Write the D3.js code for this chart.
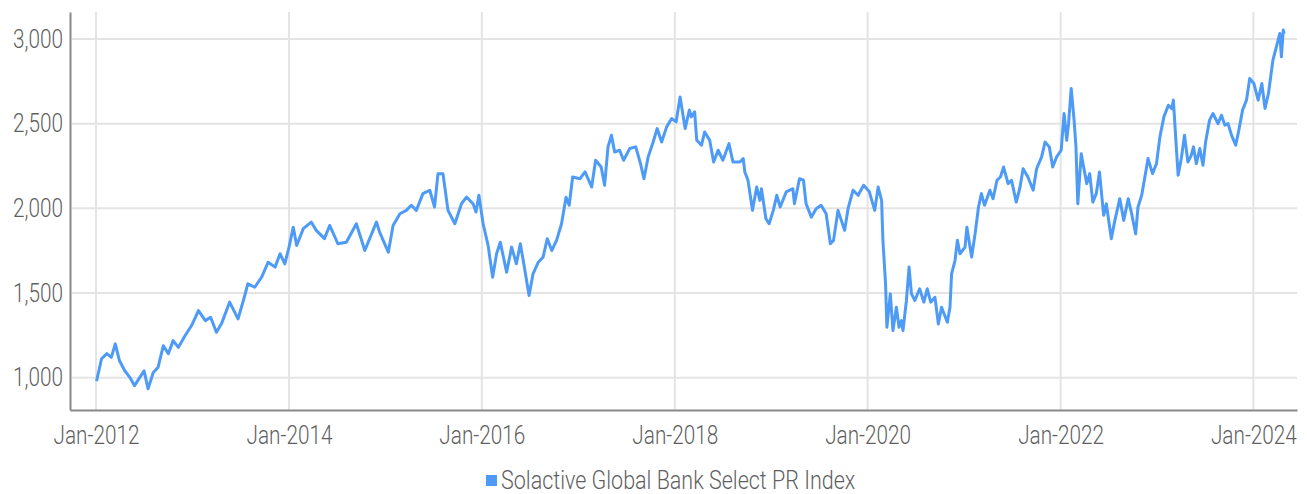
<!DOCTYPE html>
<html>
<head>
<meta charset="utf-8">
<script src="https://cdn.jsdelivr.net/npm/d3@7/dist/d3.min.js"></script>
<style>
	html, body { margin: 0; padding: 0; background: #fff; }
	svg text { font-family: Roboto, "Liberation Sans", sans-serif; font-weight: 300; fill: #5f5f5f; }
</style>
</head>
<body>
<div id="chartDiv"></div>
<script>
;(function() {

	var width = 1307;
	var height = 494;

	var seriesName = "Solactive Global Bank Select PR Index";
	var lineColor = "#4d9bf7";
	var squeeze = 0.83; // the original face is a condensed one
	var legendSqueeze = 0.86;

	// dates and index levels
	var dates = [
		"2012-01-03","2012-01-22","2012-02-11","2012-02-28","2012-03-14","2012-03-30","2012-04-19","2012-05-08","2012-05-26","2012-06-15",
		"2012-07-01","2012-07-16","2012-08-05","2012-08-23","2012-09-12","2012-10-01","2012-10-19","2012-11-08","2012-12-03","2012-12-28",
		"2013-01-23","2013-02-18","2013-03-10","2013-04-01","2013-04-20","2013-05-21","2013-06-22","2013-07-14","2013-07-29","2013-08-24",
		"2013-09-19","2013-10-14","2013-11-09","2013-11-28","2013-12-16","2014-01-01","2014-01-17","2014-01-30","2014-02-24","2014-03-26",
		"2014-04-14","2014-05-15","2014-06-04","2014-07-05","2014-08-06","2014-09-13","2014-10-15","2014-11-28","2014-12-10","2015-01-12",
		"2015-01-30","2015-02-25","2015-03-21","2015-04-09","2015-04-28","2015-05-23","2015-06-18","2015-07-06","2015-07-19","2015-08-07",
		"2015-08-26","2015-09-21","2015-10-16","2015-11-04","2015-11-29","2015-12-10","2015-12-21","2016-01-06","2016-01-25","2016-02-11",
		"2016-02-26","2016-03-11","2016-04-04","2016-04-23","2016-05-11","2016-05-26","2016-06-08","2016-06-28","2016-07-13","2016-08-02",
		"2016-08-20","2016-09-05","2016-09-22","2016-10-10","2016-10-29","2016-11-15","2016-11-27","2016-12-10","2017-01-07","2017-01-26",
		"2017-02-20","2017-03-07","2017-03-28","2017-04-10","2017-04-23","2017-05-06","2017-05-18","2017-06-06","2017-06-21","2017-07-14",
		"2017-08-06","2017-08-24","2017-09-06","2017-09-22","2017-10-11","2017-10-26","2017-11-12","2017-12-01","2017-12-20","2018-01-06",
		"2018-01-21","2018-02-09","2018-02-25","2018-03-04","2018-03-17","2018-03-25","2018-04-12","2018-04-24","2018-05-13","2018-05-28",
		"2018-06-14","2018-07-02","2018-07-25","2018-08-09","2018-09-04","2018-09-17","2018-09-23","2018-10-05","2018-10-22","2018-11-07",
		"2018-11-19","2018-11-25","2018-12-12","2018-12-24","2019-01-09","2019-01-22","2019-02-04","2019-02-27","2019-03-24","2019-03-30",
		"2019-04-18","2019-05-03","2019-05-13","2019-06-02","2019-06-20","2019-07-09","2019-07-28","2019-08-13","2019-08-25","2019-09-11",
		"2019-10-06","2019-10-19","2019-11-07","2019-11-26","2019-12-17","2020-01-07","2020-01-28","2020-02-10","2020-02-23","2020-02-28",
		"2020-03-09","2020-03-14","2020-03-27","2020-04-06","2020-04-19","2020-04-29","2020-05-08","2020-05-14","2020-05-27","2020-06-06",
		"2020-06-15","2020-06-28","2020-07-16","2020-08-01","2020-08-14","2020-08-27","2020-09-12","2020-09-25","2020-10-07","2020-10-29",
		"2020-11-08","2020-11-14","2020-11-27","2020-12-06","2020-12-16","2021-01-04","2021-01-11","2021-01-29","2021-02-11","2021-02-24",
		"2021-03-07","2021-03-19","2021-04-08","2021-04-20","2021-05-05","2021-05-18","2021-05-30","2021-06-16","2021-06-29","2021-07-17",
		"2021-07-30","2021-08-12","2021-08-30","2021-09-19","2021-10-02","2021-10-21","2021-11-03","2021-11-19","2021-12-02","2021-12-17",
		"2022-01-03","2022-01-14","2022-01-24","2022-01-31","2022-02-10","2022-02-21","2022-02-28","2022-03-07","2022-03-20","2022-03-29",
		"2022-04-10","2022-04-21","2022-05-03","2022-05-16","2022-05-28","2022-06-13","2022-06-23","2022-07-12","2022-07-24","2022-08-13",
		"2022-08-28","2022-09-14","2022-09-27","2022-10-12","2022-10-21","2022-11-04","2022-11-16","2022-11-28","2022-12-15","2022-12-30",
		"2023-01-12","2023-01-27","2023-02-13","2023-02-26","2023-03-04","2023-03-15","2023-03-22","2023-04-03","2023-04-15","2023-04-28",
		"2023-05-11","2023-05-19","2023-05-30","2023-06-12","2023-06-24","2023-07-04","2023-07-19","2023-08-01","2023-08-20","2023-09-02",
		"2023-09-15","2023-09-27","2023-10-10","2023-10-26","2023-11-08","2023-11-21","2023-12-06","2023-12-18","2024-01-03","2024-01-19",
		"2024-02-02","2024-02-14","2024-02-27","2024-03-15","2024-03-28","2024-04-10","2024-04-16","2024-04-23","2024-04-26"
	];

	var values = [
		980,1112,1142,1120,1200,1100,1041,1002,953,1002,
		1041,935,1031,1061,1189,1142,1219,1179,1248,1308,
		1396,1337,1357,1268,1318,1446,1347,1466,1554,1534,
		1593,1682,1653,1732,1672,1771,1889,1781,1880,1919,
		1870,1821,1899,1791,1800,1909,1751,1919,1860,1741,
		1899,1968,1988,2018,1988,2087,2107,2008,2204,2204,
		1988,1909,2027,2066,2027,1978,2077,1909,1780,1593,
		1732,1800,1623,1771,1673,1791,1673,1485,1613,1682,
		1712,1821,1751,1811,1909,2066,2018,2185,2175,2215,
		2126,2284,2244,2136,2363,2432,2333,2343,2284,2353,
		2363,2264,2175,2304,2392,2471,2392,2481,2530,2511,
		2658,2471,2580,2540,2570,2402,2373,2451,2402,2274,
		2343,2284,2382,2274,2274,2294,2215,2166,1988,2126,
		2047,2116,1939,1909,1988,2077,2008,2097,2116,2027,
		2175,2166,2027,1948,1998,2018,1968,1791,1811,1988,
		1870,1998,2107,2077,2136,2100,1988,2126,2047,1811,
		1554,1298,1495,1278,1416,1298,1337,1278,1456,1653,
		1495,1456,1525,1446,1525,1446,1475,1317,1416,1327,
		1416,1613,1692,1811,1732,1771,1889,1712,1850,2008,
		2087,2018,2107,2057,2166,2185,2244,2146,2166,2037,
		2116,2234,2185,2107,2234,2304,2392,2363,2244,2304,
		2343,2560,2402,2500,2708,2521,2363,2027,2323,2244,
		2146,2205,2037,2087,2215,1959,2027,1821,1919,2057,
		1929,2057,1968,1850,2008,2077,2185,2294,2205,2264,
		2422,2540,2609,2589,2639,2363,2195,2294,2432,2274,
		2314,2363,2264,2353,2254,2392,2521,2560,2500,2550,
		2491,2500,2432,2373,2471,2580,2640,2767,2737,2639,
		2737,2590,2678,2876,2954,3033,2895,3053,3030
	];

	var yTicks = [1000, 1500, 2000, 2500, 3000];
	var xTickYears = [2012, 2014, 2016, 2018, 2020, 2022, 2024];

	var plot = { left: 70, right: 1297, top: 12, bottom: 410 };

	var parseDate = d3.timeParse("%Y-%m-%d");
	var data = dates.map(function(d, i) { return { date: parseDate(d), value: values[i] }; });

	var svg = d3.select("#chartDiv").append("svg")
		.attr("width", width)
		.attr("height", height);

	// x scale: Jan-2012 sits at 96px, Jan-2024 at 1253px
	var xScale = d3.scaleTime()
		.domain([new Date(2012, 0, 1), new Date(2024, 0, 1)])
		.range([96, 1253.4]);
	xScale.domain([xScale.invert(plot.left), xScale.invert(plot.right)]).range([plot.left, plot.right]);

	var yScale = d3.scaleLinear()
		.domain([1000, 3000])
		.range([377.7, 39]);
	yScale.domain([yScale.invert(plot.bottom), yScale.invert(plot.top)]).range([plot.bottom, plot.top]);

	var xTickDates = xTickYears.map(function(y) { return new Date(y, 0, 1); });

	// grid
	svg.append("g").selectAll("line.hgrid")
		.data(yTicks)
		.enter().append("line")
			.attr("class", "hgrid")
			.attr("x1", plot.left + 2)
			.attr("x2", plot.right)
			.attr("y1", function(d) { return yScale(d); })
			.attr("y2", function(d) { return yScale(d); })
			.style("stroke", "#e4e4e4")
			.style("stroke-width", 2);

	svg.append("g").selectAll("line.vgrid")
		.data(xTickDates)
		.enter().append("line")
			.attr("class", "vgrid")
			.attr("x1", function(d) { return xScale(d); })
			.attr("x2", function(d) { return xScale(d); })
			.attr("y1", plot.top)
			.attr("y2", plot.bottom)
			.style("stroke", "#e4e4e4")
			.style("stroke-width", 2);

	// axes
	var xAxis = d3.axisBottom(xScale)
		.tickValues(xTickDates)
		.tickFormat(d3.timeFormat("%b-%Y"))
		.tickSize(0)
		.tickPadding(16);

	var xAxisContainer = svg.append("g")
		.attr("class", "x axis")
		.attr("transform", "translate(0," + plot.bottom + ")")
		.call(xAxis);
	xAxisContainer.select(".domain").style("stroke", "#888").style("stroke-width", 2);
	xAxisContainer.selectAll("text").style("font-size", "25px");

	var yAxis = d3.axisLeft(yScale)
		.tickValues(yTicks)
		.tickFormat(d3.format(","))
		.tickSize(0)
		.tickPadding(7);

	var yAxisContainer = svg.append("g")
		.attr("class", "y axis")
		.attr("transform", "translate(" + plot.left + ",0)")
		.call(yAxis);
	yAxisContainer.select(".domain").style("stroke", "#888").style("stroke-width", 2);
	yAxisContainer.selectAll("text").style("font-size", "25px");

	svg.selectAll(".tick text").style("fill", "#5f5f5f").style("font-weight", 300);
	svg.selectAll("g").attr("font-family", null).attr("font-size", null);

	// series line
	var line = d3.line()
		.x(function(d) { return xScale(d.date); })
		.y(function(d) { return yScale(d.value); });

	svg.append("path")
		.datum(data)
		.attr("d", line)
		.style("fill", "none")
		.style("stroke", lineColor)
		.style("stroke-width", 3)
		.style("stroke-linejoin", "round");

	// legend
	var legend = svg.append("g").attr("class", "legend").attr("transform", "translate(486,475)");
	legend.append("rect")
		.attr("width", 11)
		.attr("height", 11)
		.style("fill", lineColor);
	legend.append("text")
		.attr("x", 15)
		.attr("y", 14)
		.style("font-size", "25px")
		.text(seriesName);

	// narrow every label to mimic the condensed face
	svg.selectAll("text").each(function() {
		var len = this.getComputedTextLength();
		var k = this.parentNode.getAttribute("class") === "legend" ? legendSqueeze : squeeze;
		d3.select(this)
			.attr("textLength", len * k)
			.attr("lengthAdjust", "spacingAndGlyphs");
	});

})();
</script>
</body>
</html>
